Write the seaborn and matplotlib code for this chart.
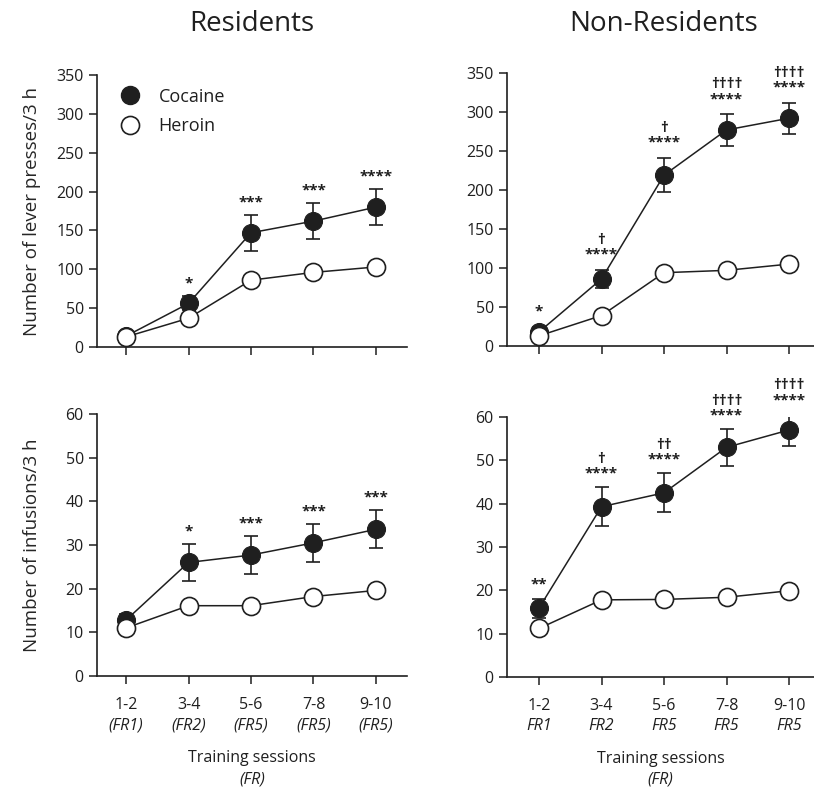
import matplotlib
matplotlib.use("Agg")
import matplotlib.pyplot as plt
import matplotlib.transforms as mtransforms
from matplotlib.lines import Line2D
import numpy as np
import pandas as pd
import seaborn as sns

# ---- data -----------------------------------------------------------------
sessions = ["1-2", "3-4", "5-6", "7-8", "9-10"]
fr_residents = ["(FR1)", "(FR2)", "(FR5)", "(FR5)", "(FR5)"]
fr_nonresidents = ["FR1", "FR2", "FR5", "FR5", "FR5"]

# lever presses / 3 h (mean, SEM)
res_press_coc = [14, 56, 147, 162, 180]
res_press_coc_sem = [4, 9, 23, 23, 23]
res_press_her = [13, 37, 86, 96, 103]
res_press_her_sem = [3, 5, 6, 6, 6]

nonres_press_coc = [18, 86, 219, 277, 292]
nonres_press_coc_sem = [6, 12, 22, 20, 20]
nonres_press_her = [13, 39, 94, 97, 105]
nonres_press_her_sem = [3, 5, 6, 7, 6]

# infusions / 3 h (mean, SEM)
res_inf_coc = [12.8, 26.0, 27.7, 30.5, 33.6]
res_inf_coc_sem = [1.5, 4.3, 4.4, 4.3, 4.4]
res_inf_her = [11.0, 16.1, 16.1, 18.2, 19.6]
res_inf_her_sem = [0.8, 1.0, 1.0, 1.0, 1.0]

nonres_inf_coc = [15.9, 39.3, 42.5, 53.0, 57.0]
nonres_inf_coc_sem = [2.2, 4.5, 4.5, 4.2, 3.7]
nonres_inf_her = [11.2, 17.8, 17.9, 18.4, 19.9]
nonres_inf_her_sem = [0.8, 1.0, 1.0, 1.0, 1.0]

# significance marks above the cocaine points
res_press_sig = ["", "*", "***", "***", "****"]
nonres_press_sig = ["*", "\u2020\n****", "\u2020\n****", "\u2020\u2020\u2020\u2020\n****", "\u2020\u2020\u2020\u2020\n****"]
res_inf_sig = ["", "*", "***", "***", "***"]
nonres_inf_sig = ["**", "\u2020\n****", "\u2020\u2020\n****", "\u2020\u2020\u2020\u2020\n****", "\u2020\u2020\u2020\u2020\n****"]

# ---- style ----------------------------------------------------------------
sns.set_theme(style="ticks")
plt.rcParams["font.family"] = ["Open Sans", "DejaVu Sans"]
INK = "#1f1f1f"
plt.rcParams.update({
    "axes.edgecolor": INK,
    "axes.linewidth": 1.2,
    "xtick.color": INK,
    "ytick.color": INK,
    "xtick.labelcolor": INK,
    "ytick.labelcolor": INK,
    "text.color": INK,
    "xtick.major.size": 6,
    "ytick.major.size": 6,
    "xtick.major.width": 1.1,
    "ytick.major.width": 1.1,
    "xtick.labelsize": 11.5,
    "ytick.labelsize": 11.5,
})

W, H = 814, 793
fig = plt.figure(figsize=(W / 100, H / 100), dpi=100)


def px_axes(left, top, right, bottom):
    return fig.add_axes([left / W, 1 - bottom / H, (right - left) / W, (bottom - top) / H])


ax_tl = px_axes(97, 75, 407, 347)
ax_tr = px_axes(507, 73, 814, 346)
ax_bl = px_axes(97, 414, 407, 676)
ax_br = px_axes(507, 417, 814, 677)

MS = 13


def draw_panel(ax, coc, coc_sem, her, her_sem, sig, ylim, yticks, xlim, sig_gap):
    x = np.arange(len(sessions))
    df_c = pd.DataFrame({"session": x, "value": coc})
    df_h = pd.DataFrame({"session": x, "value": her})

    ax.errorbar(x, coc, yerr=coc_sem, fmt="none", ecolor=INK, elinewidth=1.2,
                capsize=5, capthick=1.2, zorder=2)
    ax.errorbar(x, her, yerr=her_sem, fmt="none", ecolor=INK, elinewidth=1.2,
                capsize=5, capthick=1.2, zorder=2)
    sns.lineplot(data=df_c, x="session", y="value", ax=ax, estimator=None,
                 color=INK, lw=1.1, marker="o", markersize=MS,
                 markerfacecolor=INK, markeredgecolor=INK, zorder=3)
    sns.lineplot(data=df_h, x="session", y="value", ax=ax, estimator=None,
                 color=INK, lw=1.1, marker="o", markersize=MS,
                 markerfacecolor="white", markeredgecolor=INK,
                 markeredgewidth=1.2, zorder=4)

    for i, s in enumerate(sig):
        if not s:
            continue
        ax.annotate(s, xy=(x[i], coc[i] + coc_sem[i]), xytext=(0, sig_gap),
                    textcoords="offset points", ha="center", va="bottom",
                    fontsize=11, fontweight="bold", linespacing=1.05,
                    annotation_clip=False, color=INK)

    ax.set_xlim(*xlim)
    ax.set_ylim(*ylim)
    ax.set_yticks(yticks)
    ax.set_xticks(x)
    ax.set_xlabel("")
    ax.set_ylabel("")
    for side in ("top", "right"):
        ax.spines[side].set_visible(False)


left_xlim = (-0.464, 4.496)
right_xlim = (-0.512, 4.40)

draw_panel(ax_tl, res_press_coc, res_press_coc_sem, res_press_her, res_press_her_sem,
           res_press_sig, (0, 350), range(0, 351, 50), left_xlim, 4)
draw_panel(ax_tr, nonres_press_coc, nonres_press_coc_sem, nonres_press_her, nonres_press_her_sem,
           nonres_press_sig, (0, 350), range(0, 351, 50), right_xlim, 6)
draw_panel(ax_bl, res_inf_coc, res_inf_coc_sem, res_inf_her, res_inf_her_sem,
           res_inf_sig, (0, 60), range(0, 61, 10), left_xlim, 4)
draw_panel(ax_br, nonres_inf_coc, nonres_inf_coc_sem, nonres_inf_her, nonres_inf_her_sem,
           nonres_inf_sig, (0, 60), range(0, 61, 10), right_xlim, 5)

for ax in (ax_tl, ax_tr):
    ax.set_xticklabels([])

for ax, frs in ((ax_bl, fr_residents), (ax_br, fr_nonresidents)):
    ax.set_xticklabels(sessions)
    ax.tick_params(axis="x", pad=9)
    trans = mtransforms.offset_copy(ax.get_xaxis_transform(), fig=fig, y=-49, units="dots")
    for i, lab in enumerate(frs):
        ax.text(i, 0, lab, transform=trans, ha="center", va="center",
                fontsize=11.5, style="italic", color=INK)
    mid = np.mean(ax.get_xlim())
    t1 = mtransforms.offset_copy(ax.get_xaxis_transform(), fig=fig, y=-82, units="dots")
    t2 = mtransforms.offset_copy(ax.get_xaxis_transform(), fig=fig, y=-103, units="dots")
    ax.text(mid, 0, "Training sessions", transform=t1, ha="center", va="center", fontsize=11.5)
    ax.text(mid, 0, "(FR)", transform=t2, ha="center", va="center", fontsize=11.5, style="italic")

ax_tl.set_ylabel("Number of lever presses/3 h", fontsize=13.5)
ax_bl.set_ylabel("Number of infusions/3 h", fontsize=13.5)
ax_tl.yaxis.set_label_coords(-0.18, 0.5)
ax_bl.yaxis.set_label_coords(-0.18, 0.5)

# legend
handles = [
    Line2D([], [], ls="none", marker="o", markersize=MS, markerfacecolor=INK, markeredgecolor=INK),
    Line2D([], [], ls="none", marker="o", markersize=MS, markerfacecolor="white",
           markeredgecolor=INK, markeredgewidth=1.2),
]
ax_tl.legend(handles, ["Cocaine", "Heroin"], loc="upper left", bbox_to_anchor=(0.03, 1.0),
             frameon=False, fontsize=13, handletextpad=1.0, labelspacing=0.65,
             borderaxespad=0.3, handlelength=1.2)

# panel titles
fig.text((97 + 407) / 2 / W, 1 - 24 / H, "Residents", ha="center", va="center", fontsize=20)
fig.text((507 + 820) / 2 / W, 1 - 24 / H, "Non-Residents", ha="center", va="center", fontsize=20)

fig.savefig("out.png", dpi=100)
